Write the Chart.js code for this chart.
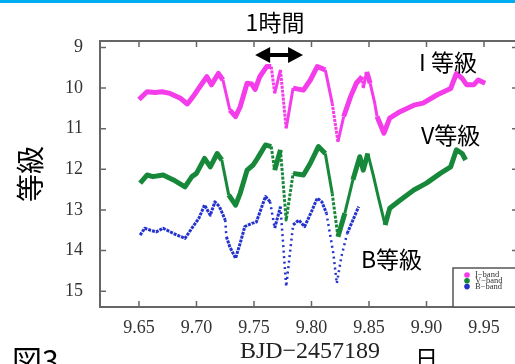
<!DOCTYPE html>
<html>
<head>
<meta charset="utf-8">
<script src="https://cdn.jsdelivr.net/npm/chart.js@4/dist/chart.umd.min.js"></script>
<style>
  html, body { margin: 0; padding: 0; background: #fff; overflow: hidden; width: 515px; height: 364px; }
  #wrap { position: absolute; left: 0; top: 0; width: 540px; height: 364px; }
</style>
</head>
<body>
<div id="wrap"><canvas id="chart" width="540" height="364"></canvas></div>
<script>
// I band
const iTimes = [9.650, 9.657, 9.664, 9.670, 9.677, 9.686, 9.692, 9.697, 9.705, 9.709, 9.713, 9.719, 9.723, 9.729, 9.734, 9.738, 9.744, 9.748, 9.751, 9.755, 9.761, 9.765, 9.768, 9.773, 9.778, 9.784, 9.793, 9.799, 9.805, 9.812, 9.818, 9.823, 9.828, 9.834, 9.839, 9.844, 9.845, 9.848, 9.851, 9.855, 9.857, 9.863, 9.868, 9.877, 9.889, 9.897, 9.909, 9.921, 9.926, 9.931, 9.935, 9.941, 9.945, 9.951];
const iMags  = [10.28, 10.09, 10.11, 10.09, 10.13, 10.25, 10.39, 10.21, 9.88, 9.72, 9.92, 9.64, 9.80, 10.54, 10.70, 10.46, 9.88, 9.90, 10.03, 9.72, 9.47, 9.47, 10.13, 9.55, 10.99, 10.00, 10.05, 9.80, 9.47, 9.55, 10.37, 11.32, 10.70, 10.21, 9.88, 9.72, 10.00, 9.60, 9.88, 10.37, 10.70, 11.11, 10.74, 10.58, 10.42, 10.37, 10.17, 10.01, 9.64, 9.76, 9.92, 9.92, 9.80, 9.88];

// V band
const vTimes = [9.651, 9.657, 9.662, 9.671, 9.680, 9.690, 9.696, 9.700, 9.707, 9.712, 9.718, 9.722, 9.728, 9.734, 9.738, 9.744, 9.749, 9.753, 9.760, 9.765, 9.768, 9.773, 9.778, 9.784, 9.793, 9.799, 9.806, 9.812, 9.818, 9.823, 9.829, 9.836, 9.842, 9.845, 9.849, 9.854, 9.858, 9.864, 9.868, 9.877, 9.889, 9.900, 9.912, 9.921, 9.926, 9.931, 9.934];
const vMags  = [12.34, 12.14, 12.18, 12.14, 12.26, 12.43, 12.18, 12.10, 11.73, 11.94, 11.61, 11.77, 12.63, 12.88, 12.59, 12.02, 11.90, 11.73, 11.40, 11.44, 12.02, 11.52, 13.25, 12.10, 12.14, 11.85, 11.44, 11.61, 12.59, 13.66, 13.08, 12.26, 11.69, 12.02, 11.61, 12.18, 12.67, 13.37, 12.96, 12.76, 12.51, 12.34, 12.10, 11.94, 11.52, 11.61, 11.77];

// B band
const bTimes = [9.651, 9.655, 9.660, 9.665, 9.671, 9.680, 9.690, 9.696, 9.702, 9.707, 9.712, 9.716, 9.720, 9.725, 9.726, 9.729, 9.734, 9.738, 9.742, 9.748, 9.752, 9.760, 9.764, 9.768, 9.773, 9.778, 9.784, 9.789, 9.794, 9.800, 9.805, 9.809, 9.813, 9.819, 9.822, 9.826, 9.831, 9.836, 9.841];
const bMags  = [13.62, 13.45, 13.50, 13.54, 13.45, 13.58, 13.70, 13.45, 13.21, 12.88, 13.13, 12.80, 12.92, 13.25, 13.66, 13.91, 14.19, 13.82, 13.41, 13.33, 13.30, 12.67, 12.80, 13.45, 12.92, 14.89, 13.37, 13.25, 13.41, 13.04, 12.71, 12.80, 13.08, 14.07, 14.81, 14.15, 13.58, 13.25, 12.92];

const xTicks = [9.65, 9.70, 9.75, 9.80, 9.85, 9.90, 9.95];
const yTicks = [9, 10, 11, 12, 13, 14, 15];
const bandNames = ['I\u2212band', 'V\u2212band', 'B\u2212band'];
const bandColors = ['#f43cea', '#17883a', '#2433cc'];

const arrowStart = 9.751;   // 1時間 = 1/24 日
const arrowSpan = 1 / 24;

function toPoints(ts, ms) {
    return ts.map((t, i) => ({ x: t, y: ms[i] }));
}

// slope of a segment in pixels
function slope(ctx) {
    return Math.abs(ctx.p1.y - ctx.p0.y) / Math.max(0.5, Math.abs(ctx.p1.x - ctx.p0.x));
}

const frameAndNotes = {
    id: 'frameAndNotes',
    afterDraw(chart) {
        const c = chart.ctx;
        const a = chart.chartArea;
        const xs = chart.scales.x, ys = chart.scales.y;
        c.save();

        // blue band at top of slide
        c.fillStyle = '#00aeef';
        c.fillRect(0, 0, 540, 3);

        // frame
        c.strokeStyle = '#666';
        c.lineWidth = 2;
        c.strokeRect(a.left, a.top, a.right - a.left, a.bottom - a.top);

        // inward ticks
        c.lineWidth = 1.5;
        c.beginPath();
        xTicks.forEach(v => {
            const px = xs.getPixelForValue(v);
            c.moveTo(px, a.bottom); c.lineTo(px, a.bottom - 6);
            c.moveTo(px, a.top); c.lineTo(px, a.top + 6);
        });
        yTicks.forEach(v => {
            const py = ys.getPixelForValue(v);
            c.moveTo(a.left, py); c.lineTo(a.left + 6, py);
            c.moveTo(a.right, py); c.lineTo(a.right - 8, py);
        });
        c.stroke();

        // legend box
        c.fillStyle = '#fff';
        c.fillRect(453, 268, 100, 39);
        c.strokeStyle = '#555';
        c.lineWidth = 1.5;
        c.strokeRect(453, 268, 100, 39);
        c.font = '8.5px "Liberation Serif"';
        c.textBaseline = 'middle';
        c.textAlign = 'left';
        bandNames.forEach((n, i) => {
            const y = 275 + i * 5.8;
            c.fillStyle = bandColors[i];
            c.beginPath();
            c.arc(467, y, 2.8, 0, Math.PI * 2);
            c.fill();
            c.fillStyle = '#333';
            c.fillText(n, 475, y);
        });

        // 1時間 arrow
        const x0 = xs.getPixelForValue(arrowStart);
        const x1 = xs.getPixelForValue(arrowStart + arrowSpan);
        const ay = 55;
        c.fillStyle = '#000';
        c.strokeStyle = '#000';
        c.lineWidth = 4;
        c.beginPath();
        c.moveTo(x0 + 10, ay); c.lineTo(x1 - 10, ay);
        c.stroke();
        c.beginPath();
        c.moveTo(x0, ay); c.lineTo(x0 + 15, ay - 8); c.lineTo(x0 + 15, ay + 8); c.closePath();
        c.moveTo(x1, ay); c.lineTo(x1 - 15, ay - 8); c.lineTo(x1 - 15, ay + 8); c.closePath();
        c.fill();

        // texts
        c.fillStyle = '#000';
        c.textBaseline = 'middle';
        c.font = '23px "Noto Sans CJK JP"';
        c.textAlign = 'center';
        c.fillText('1時間', 275, 22);
        c.textAlign = 'left';
        c.fillText('I 等級', 419, 62);
        c.fillText('V等級', 421, 135);
        c.fillText('B等級', 361, 259);
        c.font = '30px "Noto Sans CJK JP"';
        c.fillText('図3', 12, 361);
        c.font = '23px "Noto Sans CJK JP"';
        c.fillText('日', 415, 358);
        c.restore();
    }
};

const ctx = document.getElementById('chart').getContext('2d');
const chart = new Chart(ctx, {
    type: 'scatter',
    data: {
        datasets: [
            {
                label: bandNames[0],
                data: toPoints(iTimes, iMags),
                showLine: true,
                borderColor: bandColors[0],
                borderWidth: 5,
                borderJoinStyle: 'round',
                pointRadius: 0,
                segment: {
                    borderWidth: c => slope(c) > 4 ? 3 : undefined,
                    borderDash: c => slope(c) > 6 ? [3, 1] : undefined
                }
            },
            {
                label: bandNames[1],
                data: toPoints(vTimes, vMags),
                showLine: true,
                borderColor: bandColors[1],
                borderWidth: 5,
                borderJoinStyle: 'round',
                pointRadius: 0,
                segment: {
                    borderWidth: c => slope(c) > 4 ? 3 : undefined,
                    borderDash: c => slope(c) > 6 ? [3, 1.5] : undefined
                }
            },
            {
                label: bandNames[2],
                data: toPoints(bTimes, bMags),
                showLine: true,
                borderColor: bandColors[2],
                borderWidth: 3,
                borderJoinStyle: 'round',
                borderDash: [3, 1],
                pointRadius: 0,
                segment: {
                    borderWidth: c => slope(c) > 4 ? 2.5 : undefined,
                    borderDash: c => slope(c) > 4 ? [2, 3.5] : undefined
                }
            }
        ]
    },
    options: {
        responsive: false,
        animation: false,
        devicePixelRatio: 1,
        layout: { padding: { left: 0, top: 41, right: 20, bottom: 0 } },
        plugins: {
            legend: { display: false },
            tooltip: { enabled: false }
        },
        scales: {
            x: {
                type: 'linear',
                min: 9.6161,
                max: 9.9813,
                afterBuildTicks: s => { s.ticks = xTicks.map(v => ({ value: v })); },
                afterFit: s => { s.height = 57; },
                grid: { display: false, drawTicks: false },
                border: { display: false },
                ticks: {
                    padding: 10,
                    color: '#333',
                    font: { family: 'Liberation Serif', size: 18 },
                    callback: v => v.toFixed(2)
                },
                title: {
                    display: true,
                    text: 'BJD\u22122457189',
                    color: '#222',
                    font: { family: 'Liberation Serif', size: 24, lineHeight: 1 },
                    padding: { top: 0, bottom: 0 }
                }
            },
            y: {
                type: 'linear',
                reverse: true,
                min: 8.84,
                max: 15.39,
                afterBuildTicks: s => { s.ticks = yTicks.map(v => ({ value: v })); },
                afterFit: s => { s.width = 100; },
                grid: { display: false, drawTicks: false },
                border: { display: false },
                ticks: {
                    padding: 17,
                    color: '#333',
                    font: { family: 'Liberation Serif', size: 18 },
                    callback: v => String(v)
                },
                title: {
                    display: true,
                    text: '等級',
                    color: '#000',
                    font: { family: 'Noto Sans CJK JP', size: 28 },
                    padding: { top: 14, bottom: 0 }
                }
            }
        }
    },
    plugins: [frameAndNotes]
});
</script>
</body>
</html>
